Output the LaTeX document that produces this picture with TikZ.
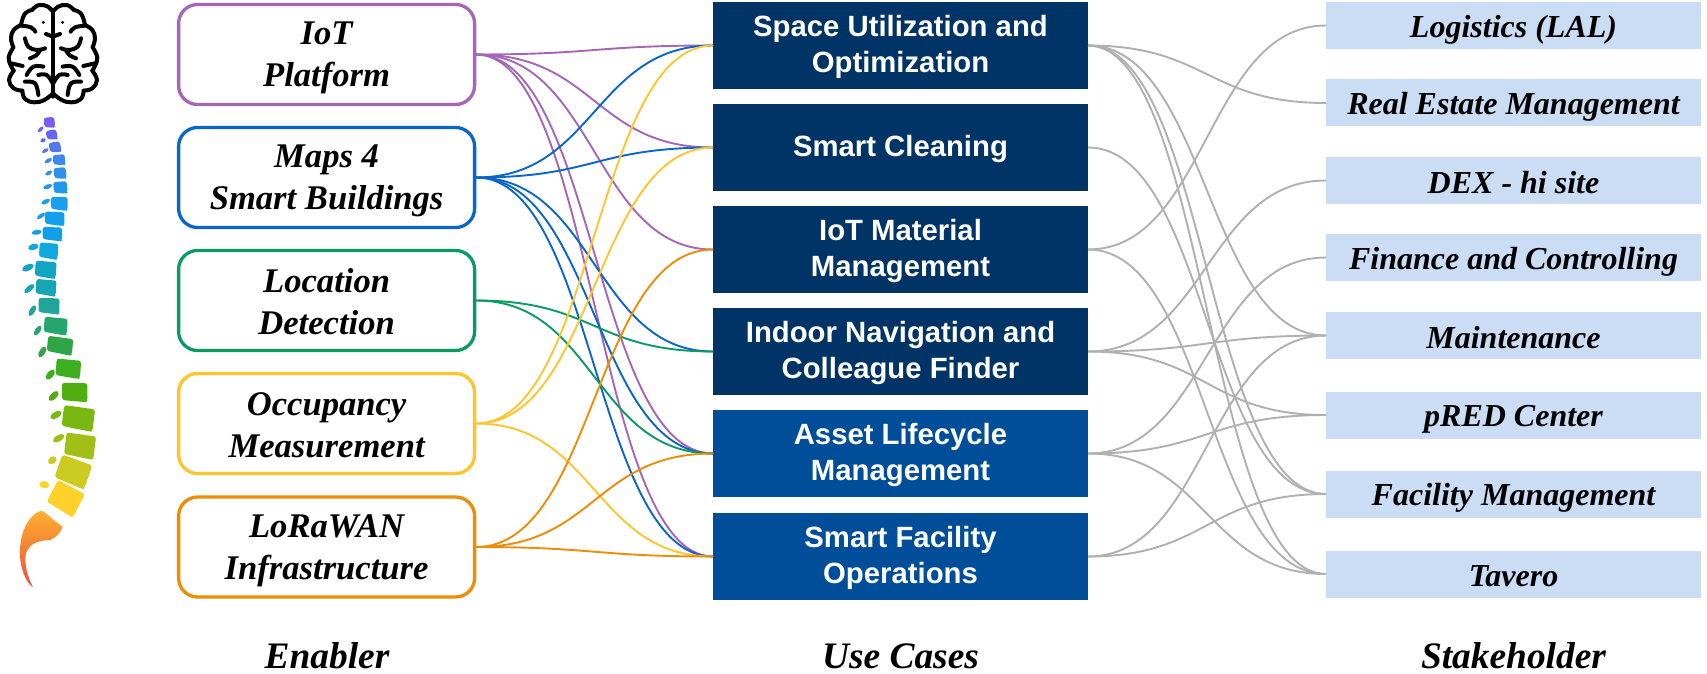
\documentclass[tikz,border=0pt]{standalone}
\usepackage{fontspec}
\setmainfont{Liberation Serif}
\newfontfamily\arialf{Liberation Sans}
\usetikzlibrary{calc}
\definecolor{cpurple}{HTML}{A566B8}
\definecolor{cblue}{HTML}{0A66C8}
\definecolor{cgreen}{HTML}{0A9A62}
\definecolor{cyellow}{HTML}{FFC42E}
\definecolor{corange}{HTML}{EE8C06}
\definecolor{cgray}{HTML}{B0B0B0}
\definecolor{ucdark}{HTML}{003366}
\definecolor{uclight}{HTML}{004E9A}
\definecolor{stfill}{HTML}{CADDF4}
\definecolor{sacrtop}{HTML}{FFB030}
\definecolor{sacrbot}{HTML}{E8503A}
\tikzset{
 enabler/.style={draw=#1,line width=3.3pt,rounded corners=19pt,fill=white,minimum width=296pt,minimum height=100pt,inner sep=0pt,outer sep=1.6pt,align=center,font=\fontsize{34.6}{42}\selectfont\bfseries\itshape,
   execute at begin node=\rule{0pt}{72pt},execute at end node=\rule[-5pt]{0pt}{5pt}},
 ucbase/.style={fill=#1,text=white,minimum width=375pt,minimum height=87pt,inner sep=0pt,outer sep=0pt,align=center,font=\fontsize{29.3}{36}\selectfont\arialf\bfseries},
 usecase/.style={ucbase=#1,execute at begin node=\rule{0pt}{60pt},execute at end node=\rule[-5pt]{0pt}{5pt}},
 usecaseone/.style={ucbase=#1,execute at begin node=\rule{0pt}{24pt},execute at end node=\rule[-5pt]{0pt}{5pt}},
 stake/.style={fill=stfill,minimum width=375pt,minimum height=47pt,inner sep=0pt,outer sep=0pt,align=center,font=\fontsize{32}{36}\selectfont\bfseries\itshape,
   execute at begin node=\rule{0pt}{30pt},execute at end node=\rule[-5pt]{0pt}{5pt}},
 heading/.style={anchor=base,inner sep=0pt,font=\fontsize{37.4}{40}\selectfont\bfseries\itshape},
 link/.style={line width=1.9pt},
 glink/.style={line width=1.9pt,cgray},
 brainline/.style={line width=4pt,line cap=round,line join=round}
}
\newcommand\conn[3]{\coordinate (m) at ($(#2.east)!.5!(#3.west)$);
 \draw[#1] (#2.east) .. controls (m |- #2.east) and (m |- #3.west) .. (#3.west);}
\newcommand\spv[6]{\definecolor{tmpc}{HTML}{#6}\begin{scope}[shift={(#1,#2)},rotate=#5,scale=1.1]
 \fill[tmpc,rounded corners=2.6pt] (-#3/2,-#4/2+3) -- (#3/2-3,-#4/2) -- (#3/2,#4/2-3) -- (#3/2-4,#4/2) -- (-#3/2+3,#4/2-2) -- cycle;\end{scope}}
\newcommand\spp[6]{\definecolor{tmpc}{HTML}{#6}\fill[tmpc] (#1,#2) ellipse [x radius=#3/2, y radius=#4/1.5, rotate=#5];}
\newcommand\bl[1]{\draw[brainline] plot[smooth,tension=.7] coordinates {#1};}
\newcommand\brainhalf{
 \bl{(0,35) (15,20) (42,15) (63,30)}
 \bl{(63,30) (85,42) (96,75)}
 \bl{(96,75) (118,90) (126,115) (119,142)}
 \bl{(119,142) (133,172) (126,198) (118,212)}
 \bl{(118,212) (132,240) (118,265) (92,272)}
 \bl{(92,272) (84,297) (56,307) (26,300) (0,280)}
 \bl{(53,95) (66,82) (96,77)}
 \bl{(84,115) (74,140) (49,150) (24,145)}
 \bl{(69,175) (49,165) (39,150)}
 \bl{(91,198) (126,190)}
 \bl{(79,225) (59,200) (29,200)}
 \bl{(44,225) (19,225) (1,250)}
 \bl{(84,245) (54,250) (44,285)}
 \bl{(0,110) (21,102)}
 \fill (29,67) circle [radius=1.6pt];
}
\begin{document}
\begin{tikzpicture}[x=1pt,y=-1pt]
\useasboundingbox (0,0) rectangle (1707,674);
% brain and spine, in 3x zoom units
\begin{scope}[x=.3333pt,y=-.3333pt]
 \begin{scope}[shift={(159,0)}]\brainhalf\end{scope}
 \begin{scope}[shift={(159,0)},xscale=-1]\brainhalf\end{scope}
 \draw[brainline] (159,30) -- (159,290);
 \spv{148}{367}{32}{30}{0}{7A5CF0}
 \spv{155}{404}{32}{28}{5}{6468F0}
 \spv{165}{441}{34}{30}{5}{5577EE}
 \spv{177}{479}{36}{30}{0}{3F86EE}
 \spv{180}{519}{36}{32}{0}{3090EE}
 \spv{181}{562}{40}{34}{0}{2098EE}
 \spv{178}{610}{48}{38}{-5}{18A0EE}
 \spv{164}{655}{56}{38}{-5}{12A0EA}
 \spv{157}{701}{56}{38}{-5}{10A0E8}
 \spv{146}{752}{54}{44}{-8}{10A8E0}
 \spv{137}{808}{60}{46}{-8}{10A5C5}
 \spv{138}{862}{58}{44}{-8}{15A5B5}
 \spv{147}{917}{60}{44}{-5}{20A598}
 \spv{167}{977}{66}{46}{-8}{25A570}
 \spv{180}{1036}{72}{46}{-10}{30A545}
 \spv{205}{1105}{70}{50}{-8}{3CAE20}
 \spv{224}{1176}{72}{52}{-3}{50AE10}
 \spv{235}{1254}{88}{62}{-10}{78B810}
 \spv{240}{1337}{84}{64}{-10}{A0C018}
 \spv{220}{1415}{90}{70}{-22}{CCCC20}
 \spv{197}{1495}{86}{72}{-30}{FFD22A}
 \spp{122}{388}{22}{8}{45}{7A5CF0}
 \spp{129}{421}{16}{9}{25}{6468F0}
 \spp{136}{452}{22}{8}{30}{5577EE}
 \spp{145}{482}{24}{9}{30}{3F86EE}
 \spp{146}{519}{22}{9}{30}{3090EE}
 \spp{143}{560}{28}{10}{20}{2098EE}
 \spp{137}{605}{28}{10}{25}{18A0EE}
 \spp{123}{648}{28}{9}{35}{12A0EA}
 \spp{110}{697}{30}{11}{10}{10A0E8}
 \spp{100}{741}{32}{14}{15}{10A8E0}
 \spp{84}{803}{38}{14}{25}{10A5C5}
 \spp{88}{866}{38}{12}{40}{15A5B5}
 \spp{97}{932}{36}{12}{60}{20A598}
 \spp{113}{992}{34}{12}{55}{25A570}
 \spp{127}{1056}{36}{13}{60}{30A545}
 \spp{151}{1124}{36}{14}{50}{3CAE20}
 \spp{161}{1188}{38}{14}{45}{50AE10}
 \spp{168}{1245}{38}{14}{30}{78B810}
 \spp{176}{1315}{38}{14}{30}{A0C018}
 \spp{157}{1381}{28}{16}{35}{CCCC20}
 \spp{133}{1454}{30}{16}{-10}{FFD22A}
 \shade[top color=sacrtop,bottom color=sacrbot]
   (126,1532) .. controls (145,1545) and (165,1565) .. (188,1580)
   .. controls (182,1600) and (165,1615) .. (150,1620)
   .. controls (125,1622) and (90,1625) .. (78,1660)
   .. controls (72,1690) and (82,1730) .. (99,1762)
   .. controls (75,1745) and (58,1700) .. (60,1650)
   .. controls (62,1590) and (90,1540) .. (126,1532) -- cycle;
\end{scope}
% enablers
\node[enabler=cpurple] (e1) at (326.6,54.5) {IoT\\Platform};
\node[enabler=cblue] (e2) at (326.6,177.5) {Maps 4\\Smart Buildings};
\node[enabler=cgreen] (e3) at (326.6,300.5) {Location\\Detection};
\node[enabler=cyellow] (e4) at (326.6,423.5) {Occupancy\\Measurement};
\node[enabler=corange] (e5) at (326.6,547) {LoRaWAN\\Infrastructure};
% use cases
\node[usecase=ucdark] (u1) at (900.5,45.5) {Space Utilization and\\Optimization};
\node[usecaseone=ucdark] (u2) at (900.5,147.5) {Smart Cleaning};
\node[usecase=ucdark] (u3) at (900.5,249.5) {IoT Material\\Management};
\node[usecase=ucdark] (u4) at (900.5,351.5) {Indoor Navigation and\\Colleague Finder};
\node[usecase=uclight] (u5) at (900.5,453.5) {Asset Lifecycle\\Management};
\node[usecase=uclight] (u6) at (900.5,556.5) {Smart Facility\\Operations};
% stakeholders
\node[stake] (s1) at (1513.5,25.5) {Logistics (LAL)};
\node[stake] (s2) at (1513.5,103) {Real Estate Management};
\node[stake] (s3) at (1513.5,180.5) {DEX - hi site};
\node[stake] (s4) at (1513.5,257.5) {Finance and Controlling};
\node[stake] (s5) at (1513.5,335.5) {Maintenance};
\node[stake] (s6) at (1513.5,415) {pRED Center};
\node[stake] (s7) at (1513.5,494) {Facility Management};
\node[stake] (s8) at (1513.5,574) {Tavero};
% headings
\node[heading] (h1) at (327,668) {Enabler};
\node[heading] (h2) at (900.5,668) {Use Cases};
\node[heading] (h3) at (1513.5,668) {Stakeholder};
% connectors
\foreach \t in {u1,u2,u3,u5,u6}{\conn{link,cpurple}{e1}{\t}}
\foreach \t in {u1,u2,u4,u5,u6}{\conn{link,cblue}{e2}{\t}}
\foreach \t in {u4,u5}{\conn{link,cgreen}{e3}{\t}}
\foreach \t in {u1,u2,u6}{\conn{link,cyellow}{e4}{\t}}
\foreach \t in {u3,u5,u6}{\conn{link,corange}{e5}{\t}}
\foreach \t in {s2,s5,s7,s8}{\conn{glink}{u1}{\t}}
\conn{glink}{u2}{s7}
\foreach \t in {s1,s8}{\conn{glink}{u3}{\t}}
\foreach \t in {s3,s5,s6}{\conn{glink}{u4}{\t}}
\foreach \t in {s4,s6,s8}{\conn{glink}{u5}{\t}}
\foreach \t in {s5,s7}{\conn{glink}{u6}{\t}}
\end{tikzpicture}
\end{document}
